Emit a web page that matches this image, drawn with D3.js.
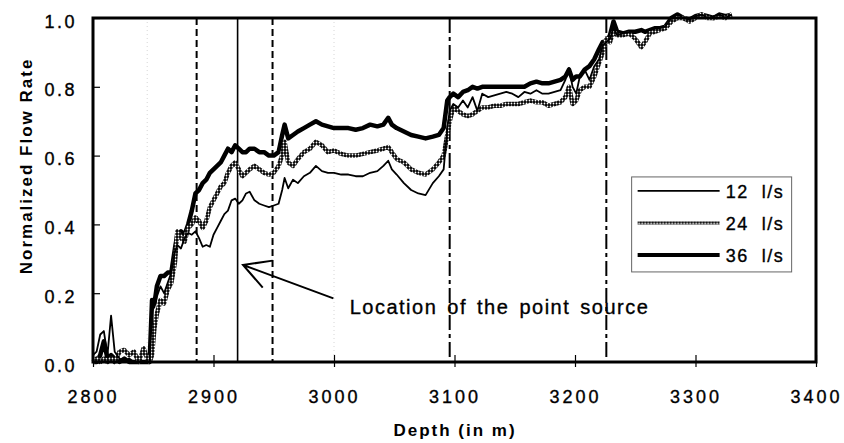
<!DOCTYPE html>
<html>
<head>
<meta charset="utf-8">
<script src="https://cdn.jsdelivr.net/npm/d3@7"></script>
<style>
  body { margin: 0; background: #fff; }
  text { font-family: "Liberation Sans", Arial, sans-serif; fill: #000; }
  .plain { stroke: #000; stroke-width: 0.35px; }
</style>
</head>
<body>
<div id="chart"></div>
<script>
// depth grid (m) shared by the three runs
const depth = [2800,2803,2806,2809,2812,2815,2818,2822,2826,2830,2834,2838,2842,2845,2847,2849,2851,2853,2856,2859,
  2862,2865,2868,2870,2873,2876,2879,2882,2885,2888,2891,2894,2897,2900,2903,2906,2909,2912,2915,2918,
  2921,2924,2927,2930,2934,2938,2942,2946,2950,2954,2957,2959,2962,2966,2970,2975,2980,2985,2990,2995,
  3000,3006,3012,3018,3024,3030,3036,3041,3045,3048,3052,3058,3064,3070,3076,3082,3087,3091,3094,3096,
  3099,3103,3107,3111,3115,3119,3123,3128,3133,3138,3143,3148,3153,3158,3163,3168,3173,3178,3183,3188,
  3192,3195,3198,3201,3204,3208,3212,3216,3220,3223,3226,3229,3232,3235,3240,3245,3250,3255,3258,3262,
  3266,3270,3275,3280,3285,3290,3295,3300,3305,3310,3315,3320,3325,3330];

const flow12 = [0.02,0.03,0.08,0.09,0.02,0.135,0.03,0.01,0.00,0.01,0.00,0.00,0.00,0.00,0.00,0.15,0.16,0.19,0.22,0.20,
  0.23,0.26,0.32,0.34,0.33,0.36,0.375,0.37,0.38,0.36,0.335,0.34,0.335,0.37,0.39,0.41,0.43,0.44,0.47,0.475,
  0.46,0.47,0.49,0.495,0.47,0.46,0.455,0.45,0.455,0.46,0.50,0.535,0.505,0.53,0.52,0.54,0.55,0.57,0.555,0.55,
  0.55,0.545,0.545,0.54,0.54,0.55,0.555,0.57,0.585,0.56,0.545,0.52,0.50,0.49,0.485,0.52,0.54,0.56,0.68,0.73,
  0.75,0.74,0.76,0.74,0.77,0.73,0.78,0.77,0.775,0.78,0.785,0.78,0.77,0.785,0.78,0.79,0.78,0.78,0.785,0.79,
  0.82,0.855,0.80,0.78,0.83,0.85,0.82,0.86,0.88,0.92,0.93,0.94,0.97,0.95,0.955,0.96,0.96,0.965,0.96,0.965,
  0.97,0.97,0.975,1.00,1.01,1.00,0.995,1.005,1.01,1.00,1.005,1.01,1.00,1.01];

const flow24 = [0.00,0.01,0.00,0.01,0.00,0.01,0.00,0.03,0.035,0.02,0.03,0.00,0.04,0.01,0.00,0.02,0.10,0.14,0.18,0.17,
  0.21,0.23,0.29,0.38,0.36,0.35,0.39,0.40,0.42,0.41,0.39,0.41,0.45,0.47,0.49,0.51,0.52,0.55,0.57,0.58,
  0.56,0.54,0.55,0.56,0.57,0.56,0.55,0.545,0.55,0.57,0.60,0.64,0.58,0.57,0.59,0.61,0.62,0.64,0.63,0.61,
  0.615,0.605,0.60,0.60,0.605,0.61,0.615,0.62,0.625,0.61,0.59,0.58,0.56,0.55,0.545,0.56,0.58,0.60,0.66,0.70,
  0.74,0.73,0.72,0.715,0.72,0.73,0.74,0.74,0.745,0.745,0.75,0.75,0.75,0.755,0.76,0.755,0.755,0.745,0.75,0.755,
  0.77,0.80,0.75,0.76,0.79,0.80,0.80,0.83,0.87,0.90,0.94,0.93,0.96,0.95,0.95,0.955,0.94,0.915,0.93,0.955,
  0.96,0.965,0.97,0.99,1.00,1.00,0.99,1.00,1.01,1.00,1.00,1.005,1.00,1.01];

const flow36 = [0.00,0.00,0.02,0.06,0.01,0.02,0.01,0.00,0.01,0.00,0.00,0.00,0.00,0.00,0.00,0.18,0.17,0.22,0.25,0.25,
  0.26,0.26,0.33,0.37,0.38,0.37,0.40,0.44,0.49,0.50,0.52,0.53,0.55,0.56,0.57,0.58,0.60,0.62,0.61,0.63,
  0.62,0.61,0.61,0.62,0.62,0.61,0.61,0.60,0.60,0.61,0.66,0.69,0.65,0.66,0.67,0.68,0.69,0.70,0.69,0.685,
  0.68,0.68,0.68,0.675,0.68,0.69,0.685,0.69,0.71,0.69,0.68,0.67,0.66,0.655,0.65,0.655,0.66,0.68,0.76,0.77,
  0.78,0.77,0.785,0.79,0.80,0.795,0.80,0.80,0.80,0.80,0.80,0.80,0.80,0.80,0.81,0.815,0.81,0.81,0.815,0.82,
  0.83,0.85,0.82,0.83,0.83,0.85,0.86,0.88,0.91,0.93,0.93,0.95,0.99,0.96,0.955,0.96,0.96,0.965,0.96,0.965,
  0.97,0.97,0.975,1.00,1.01,1.00,0.995,1.005,1.01,1.005,1.00,1.01,1.005,1.01];

const xTicks = [2800, 2900, 3000, 3100, 3200, 3300, 3400];
const yTicks = [0, 0.2, 0.4, 0.6, 0.8, 1.0];
const markerDepths = [2886, 2920, 2949, 3096, 3226];
const legendLabels = ["12  l/s", "24  l/s", "36  l/s"];
const annotation = "Location of the point source";

const width = 844, height = 443;
const margin = { top: 18, left: 93, bottom: 81, right: 28 };
const iwidth = width - margin.left - margin.right;
const iheight = height - margin.top - margin.bottom;

const svg = d3.select("#chart").append("svg")
  .attr("width", width)
  .attr("height", height);

// dotted fill used for the 24 l/s line
const defs = svg.append("defs");
const pat = defs.append("pattern")
  .attr("id", "dots")
  .attr("width", 3).attr("height", 3)
  .attr("patternUnits", "userSpaceOnUse");
pat.append("rect").attr("width", 3).attr("height", 3).attr("fill", "#000");
pat.append("circle").attr("cx", 1.5).attr("cy", 1.5).attr("r", 0.9).attr("fill", "#fff");

const g = svg.append("g").attr("transform", `translate(${margin.left},${margin.top})`);

const x = d3.scaleLinear().domain([2800, 3400]).range([0, iwidth]);
const y = d3.scaleLinear().domain([0, 1]).range([iheight, 0]);

// faint scan gridlines
[2845, 3000].forEach(d => {
  g.append("line")
    .attr("x1", x(d)).attr("x2", x(d))
    .attr("y1", 0).attr("y2", iheight)
    .attr("stroke", "#ccc").attr("stroke-width", 0.8)
    .attr("stroke-dasharray", "1,3");
});

// vertical markers
const markerDash = ["7,4", null, "7,4", "15,4,4,4", "15,4,4,4"];
const markerWidth = [2, 1.6, 2, 2, 2];
markerDepths.forEach((d, i) => {
  g.append("line")
    .attr("x1", x(d)).attr("x2", x(d))
    .attr("y1", 0).attr("y2", iheight)
    .attr("stroke", "#000")
    .attr("stroke-width", markerWidth[i])
    .attr("stroke-dasharray", markerDash[i]);
});

const line = d3.line().x((d, i) => x(depth[i])).y(d => y(d));

g.append("path").datum(flow36)
  .attr("fill", "none").attr("stroke", "#000")
  .attr("stroke-width", 4.5).attr("stroke-linejoin", "round")
  .attr("d", line);

g.append("path").datum(flow24)
  .attr("fill", "none").attr("stroke", "url(#dots)")
  .attr("stroke-width", 4.5).attr("stroke-linejoin", "round")
  .attr("d", line);

g.append("path").datum(flow12)
  .attr("fill", "none").attr("stroke", "#000")
  .attr("stroke-width", 1.8).attr("stroke-linejoin", "round")
  .attr("d", line);

// axes
const xAxis = g.append("g")
  .attr("transform", `translate(0,${iheight})`)
  .call(d3.axisBottom(x).tickValues(xTicks).tickFormat(d3.format("d")).tickSize(5));
xAxis.select(".domain").remove();
xAxis.selectAll(".tick line").attr("y1", -7).attr("stroke-width", 1.2);
xAxis.selectAll(".tick text")
  .attr("class", "plain")
  .attr("y", 41).attr("dy", null)
  .style("font-size", "18px").style("letter-spacing", "3px");

const yAxis = g.append("g")
  .call(d3.axisLeft(y).tickValues(yTicks).tickFormat(d3.format(".1f")).tickSize(6));
yAxis.select(".domain").remove();
yAxis.selectAll(".tick line").attr("x2", 7).attr("stroke-width", 1.2);
yAxis.selectAll(".tick text")
  .attr("class", "plain")
  .attr("x", -16).attr("dy", "0.5em")
  .style("font-size", "18px").style("letter-spacing", "2.5px");

// frame
g.append("rect")
  .attr("width", iwidth).attr("height", iheight)
  .attr("fill", "none").attr("stroke", "#000").attr("stroke-width", 3);

// axis titles
svg.append("text")
  .attr("x", margin.left + x(3000) + 121).attr("y", 436)
  .attr("text-anchor", "middle")
  .style("font-size", "17px").style("font-weight", "bold").style("letter-spacing", "2px")
  .text("Depth (in m)");

svg.append("text")
  .attr("transform", `translate(32,${margin.top + y(0.57)}) rotate(-90)`)
  .attr("text-anchor", "middle")
  .style("font-size", "17px").style("font-weight", "bold").style("letter-spacing", "2px")
  .text("Normalized Flow Rate");

// annotation arrow
const tip = [x(2924.5), y(0.282)];
const tail = [x(2999.5), y(0.185)];
const ang = Math.atan2(tail[1] - tip[1], tail[0] - tip[0]);
const barb = 30, spread = 0.5;
g.append("path")
  .attr("fill", "none").attr("stroke", "#000").attr("stroke-width", 2)
  .attr("d", `M${tail[0]},${tail[1]}L${tip[0]},${tip[1]}`
    + `M${tip[0] + barb * Math.cos(ang - spread)},${tip[1] + barb * Math.sin(ang - spread)}`
    + `L${tip[0]},${tip[1]}`
    + `L${tip[0] + barb * Math.cos(ang + spread)},${tip[1] + barb * Math.sin(ang + spread)}`);

g.append("text")
  .attr("class", "plain")
  .attr("x", x(3013)).attr("y", y(0.14))
  .style("font-size", "20px").style("letter-spacing", "1.5px").style("word-spacing", "3px")
  .text(annotation);

// legend
const lg = g.append("g").attr("transform", `translate(${x(3247)},${y(0.538)})`);
lg.append("rect")
  .attr("width", 160).attr("height", 95)
  .attr("fill", "#fff").attr("stroke", "#666").attr("stroke-width", 1);
const legendStroke = ["#000", "url(#dots)", "#000"];
const legendWidth = [1.8, 3, 4];
legendLabels.forEach((t, i) => {
  const yy = 14 + i * 32;
  lg.append("line")
    .attr("x1", 6).attr("x2", 88).attr("y1", yy).attr("y2", yy)
    .attr("stroke", legendStroke[i]).attr("stroke-width", legendWidth[i]);
  lg.append("text")
    .attr("class", "plain")
    .attr("x", 94).attr("y", yy + 7)
    .attr("xml:space", "preserve")
    .style("white-space", "pre")
    .style("font-size", "18px").style("letter-spacing", "1.5px")
    .text(t);
});
</script>
</body>
</html>
